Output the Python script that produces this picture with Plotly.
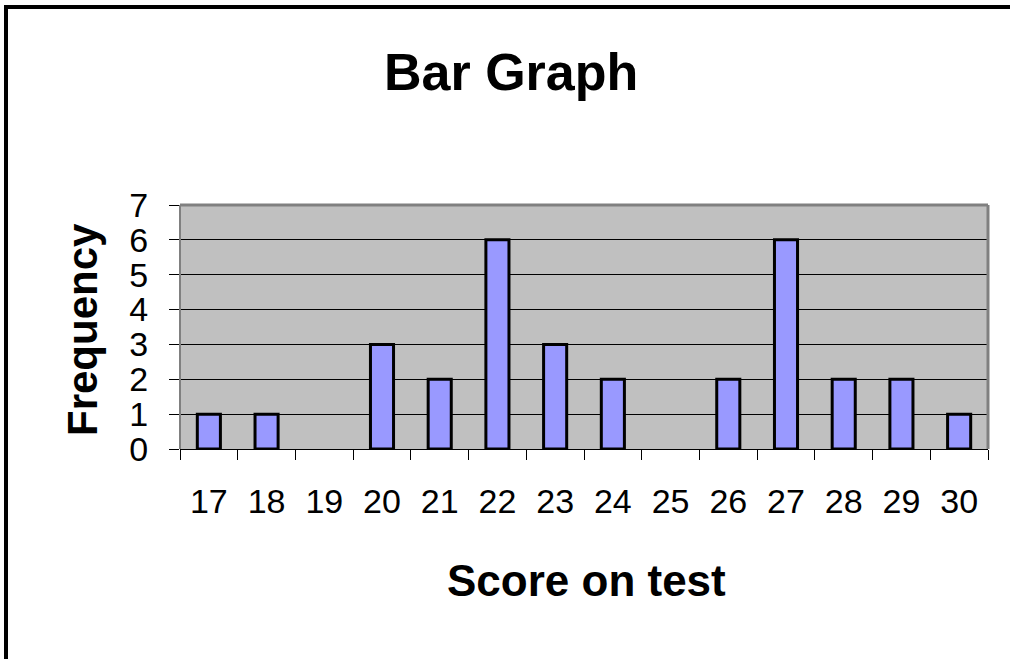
import plotly.graph_objects as go

scores = ["17", "18", "19", "20", "21", "22", "23", "24", "25", "26", "27", "28", "29", "30"]
frequency = [1, 1, 0, 3, 2, 6, 3, 2, 0, 2, 6, 2, 2, 1]
y_ticks = [0, 1, 2, 3, 4, 5, 6, 7]

FONT = "Liberation Sans, Arial, sans-serif"
W, H = 1010, 659
L, R, T, B = 180, 22, 205, 210
PW, PH = W - L - R, H - T - B


def px(xp):
    return (xp - L) / PW


def py(yp):
    return 1 - (yp - T) / PH


# zero-height bars are not drawn in the reference
bar_values = [v if v else None for v in frequency]

fig = go.Figure(
    go.Bar(
        x=scores,
        y=bar_values,
        marker=dict(color="#9999FF", line=dict(color="black", width=3)),
        width=0.4,
        hoverinfo="skip",
    )
)

fig.update_layout(
    width=W,
    height=H,
    margin=dict(l=L, r=R, t=T, b=B),
    paper_bgcolor="white",
    plot_bgcolor="#C0C0C0",
    showlegend=False,
    font=dict(family=FONT, color="black"),
)

fig.update_xaxes(
    type="category",
    categoryorder="array",
    categoryarray=scores,
    tickson="boundaries",
    ticks="outside",
    ticklen=10,
    tickwidth=1,
    tickcolor="black",
    showline=True,
    linecolor="black",
    linewidth=1,
    showgrid=False,
    tickfont=dict(size=34, family=FONT, color="black"),
    ticklabelstandoff=22,
)

fig.update_yaxes(
    range=[0, 7],
    tickvals=y_ticks,
    ticks="outside",
    ticklen=10,
    tickwidth=1,
    tickcolor="black",
    showline=False,
    showgrid=True,
    gridcolor="black",
    gridwidth=1,
    zeroline=False,
    tickfont=dict(size=34, family=FONT, color="black"),
    ticklabelstandoff=14,
)

shapes = [
    dict(type="line", xref="paper", yref="paper", x0=0, x1=1, y0=1, y1=1,
         line=dict(color="#808080", width=3), layer="above"),
    dict(type="line", xref="paper", yref="paper", x0=1, x1=1, y0=0, y1=1,
         line=dict(color="#808080", width=3), layer="above"),
    dict(type="line", xref="paper", yref="paper", x0=0, x1=0, y0=0, y1=1,
         line=dict(color="#808080", width=2), layer="above"),
    dict(type="rect", xref="paper", yref="paper",
         x0=px(6), x1=px(1030), y0=py(680), y1=py(7),
         line=dict(color="black", width=4), fillcolor="rgba(0,0,0,0)", layer="above"),
]
fig.update_layout(shapes=shapes)

annotations = [
    dict(text="<b>Bar Graph</b>", xref="paper", yref="paper", x=px(511), y=py(72),
         xanchor="center", yanchor="middle", showarrow=False,
         font=dict(size=52, family=FONT, color="black")),
    dict(text="<b>Score on test</b>", xref="paper", yref="paper", x=px(586), y=py(580),
         xanchor="center", yanchor="middle", showarrow=False,
         font=dict(size=44, family=FONT, color="black")),
    dict(text="<b>Frequency</b>", xref="paper", yref="paper", x=px(82), y=py(330),
         xanchor="center", yanchor="middle", showarrow=False, textangle=-90,
         font=dict(size=42, family=FONT, color="black")),
]
fig.update_layout(annotations=annotations)

fig.write_html(
    "out.html",
    config={"displayModeBar": False},
    post_script="document.body.style.margin='0';document.body.style.overflow='hidden';",
)
